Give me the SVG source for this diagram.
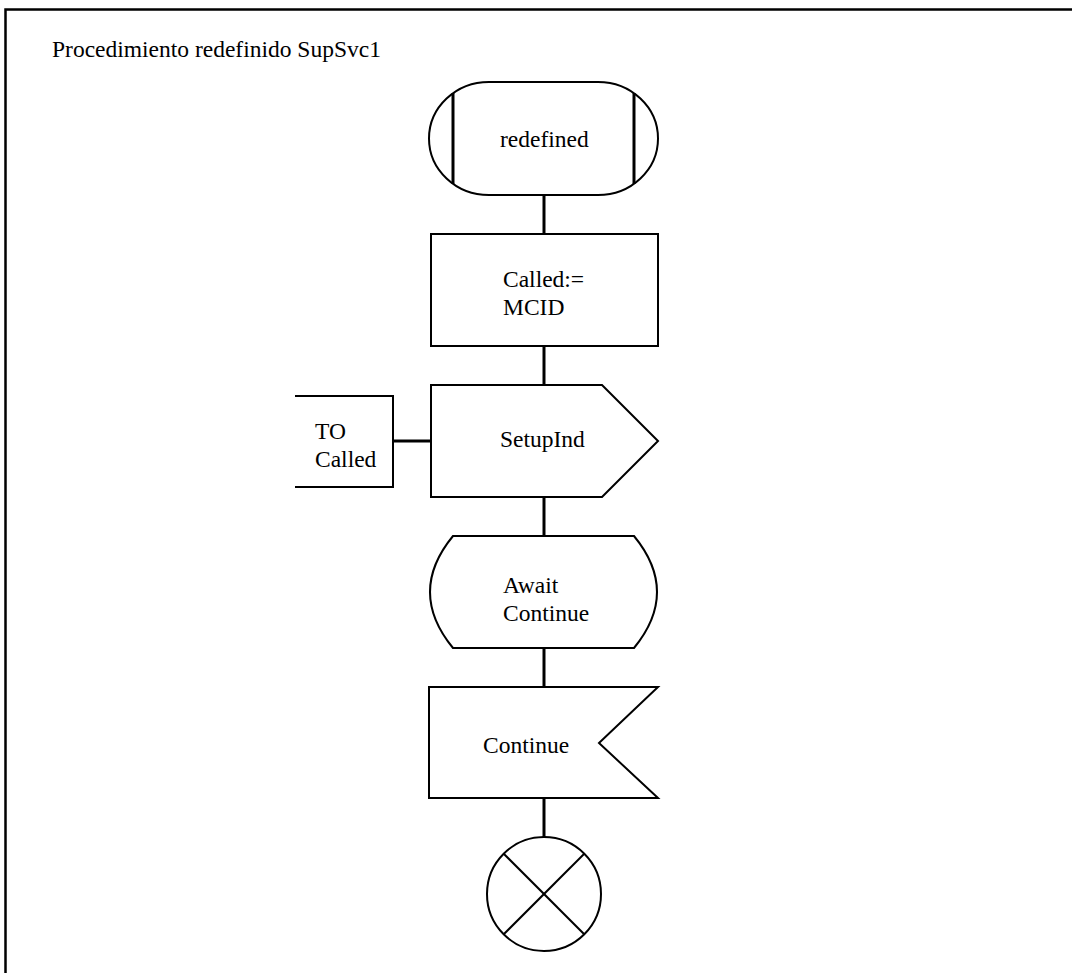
<svg xmlns="http://www.w3.org/2000/svg" width="1072" height="973" viewBox="0 0 1072 973">
<style>
.s{fill:#fff;stroke:#000;stroke-width:2}
.c{fill:none;stroke:#000;stroke-width:3}
text{font-family:'Liberation Serif','Times New Roman',Tinos,'DejaVu Serif',serif;font-size:23.5px;fill:#000}
</style>
<rect x="0" y="0" width="1072" height="973" fill="#fff"/>
<rect x="5.5" y="9.5" width="1090" height="1000" fill="none" stroke="#000" stroke-width="2.5"/>
<text font-family="Liberation Serif, serif" x="52" y="57">Procedimiento redefinido SupSvc1</text>
<g id="connectors">
<line class="c" x1="544" y1="195" x2="544" y2="234"/>
<line class="c" x1="544" y1="346" x2="544" y2="385"/>
<line class="c" x1="393" y1="441" x2="431" y2="441"/>
<line class="c" x1="544" y1="497" x2="544" y2="536"/>
<line class="c" x1="544" y1="648" x2="544" y2="687"/>
<line class="c" x1="544" y1="798" x2="544" y2="837"/>
</g>
<g id="start">
<rect class="s" x="429" y="82" width="229" height="113" rx="60" ry="56.5"/>
<line class="c" x1="453" y1="93" x2="453" y2="184"/>
<line class="c" x1="634" y1="93" x2="634" y2="184"/>
<text font-family="Liberation Serif, serif" x="500" y="147">redefined</text>
</g>
<g id="task">
<rect class="s" x="431" y="234" width="227" height="112"/>
<text font-family="Liberation Serif, serif" x="503" y="287">Called:=</text>
<text font-family="Liberation Serif, serif" x="503" y="315">MCID</text>
</g>
<g id="output">
<path class="s" d="M431,385 H602 L658,441 L602,497 H431 Z"/>
<text font-family="Liberation Serif, serif" x="500" y="447">SetupInd</text>
</g>
<g id="comment">
<path class="s" d="M295,396 H393 V487 H295" fill="none"/>
<text font-family="Liberation Serif, serif" x="315" y="439">TO</text>
<text font-family="Liberation Serif, serif" x="315" y="467">Called</text>
</g>
<g id="state">
<path class="s" d="M453,536 H634 Q680,592 634,648 H453 Q407,592 453,536 Z"/>
<text font-family="Liberation Serif, serif" x="503" y="593">Await</text>
<text font-family="Liberation Serif, serif" x="503" y="621">Continue</text>
</g>
<g id="input">
<path class="s" d="M429,687 H658 L599,743 L658,798 H429 Z"/>
<text font-family="Liberation Serif, serif" x="483" y="753">Continue</text>
</g>
<g id="stop">
<circle class="s" cx="544" cy="894" r="57"/>
<line stroke="#000" stroke-width="2" x1="504" y1="854" x2="584" y2="934"/>
<line stroke="#000" stroke-width="2" x1="584" y1="854" x2="504" y2="934"/>
</g>
</svg>
